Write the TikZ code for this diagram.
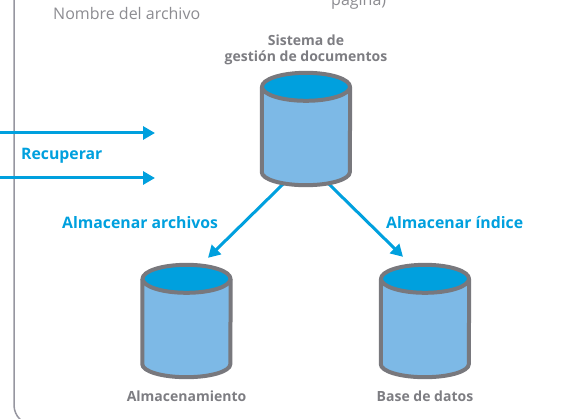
\documentclass[tikz,border=0pt]{standalone}
\usepackage{fontspec}
\setmainfont{Open Sans}
\usetikzlibrary{arrows.meta,calc,positioning}
\definecolor{capblue}{RGB}{0,160,222}
\definecolor{bodyblue}{RGB}{125,185,230}
\definecolor{edgegray}{RGB}{120,120,125}
\definecolor{framegray}{RGB}{150,150,160}
\definecolor{textgray}{RGB}{125,125,130}
\definecolor{lightgray}{RGB}{140,140,145}

\begin{document}
\begin{tikzpicture}[x=1pt,y=-1pt,>={Triangle[length=12pt,width=13pt]},every node/.append style={align=center},
    db/.style={rectangle,minimum width=88pt,minimum height=112pt,inner sep=0pt},
    dbline/.style={draw=edgegray,line width=4pt,line join=round},
    dbname/.style={text=textgray,font=\fontsize{14}{16}\selectfont\bfseries},
    action/.style={text=capblue,font=\fontsize{15.8}{18}\selectfont\bfseries},
    flow/.style={->,draw=capblue,line width=3pt},
    plain/.style={text=lightgray,font=\fontsize{16}{18}\selectfont},]
    \useasboundingbox (0,0) rectangle (586,419);
    \draw[framegray,line width=1.5pt,rounded corners=20pt] (14,-10) -- (14,425) -- (600,425);
    \node [plain, anchor=base west, inner sep=0pt] (name) at (53,20) {Nombre del archivo};
    \node [plain, anchor=base west, inner sep=0pt] (page) at (331,6) {página)};
    \node [db] (sgd) at (306,129) {};
    \node [db] (store) at (186.5,321) {};
    \node [db] (base) at (425,321) {};
    \coordinate (in1) at (0,133);
    \coordinate (in2) at (0,178);
    \coordinate (tip1) at (155,133);
    \coordinate (tip2) at (155,178);
    \draw[flow] (in1) -- (tip1);
    \draw[flow] (in2) -- (tip2);
    \draw[flow] ([shift={(-20,-4)}]sgd.south) -- ([shift={(21.5,-7)}]store.north);
    \draw[flow] ([shift={(20,-4)}]sgd.south) -- ([shift={(-22,-8)}]base.north);
    \foreach \n in {sgd,store,base} {
        \draw[dbline,fill=bodyblue] ($(\n.north west)+(0,14)$) -- ($(\n.south west)-(0,13)$) arc[start angle=180,end angle=0,x radius=44,y radius=13] -- ($(\n.north east)+(0,14)$);
        \draw[dbline,fill=capblue] ($(\n.north)+(0,14)$) ellipse (44 and 14);
    }
    \node [dbname, above=4pt of sgd] (sgdname) {Sistema de\\gestión de documentos};
    \node [dbname, below=10pt of store] (storename) {Almacenamiento};
    \node [dbname, below=10pt of base] (basename) {Base de datos};
    \node [action, anchor=base west, inner sep=0pt] (get) at (21,160) {Recuperar};
    \node [action, anchor=base west, inner sep=0pt] (file) at (62,229) {Almacenar archivos};
    \node [action, anchor=base west, inner sep=0pt] (index) at (386,229) {Almacenar índice};
\end{tikzpicture}
\end{document}
